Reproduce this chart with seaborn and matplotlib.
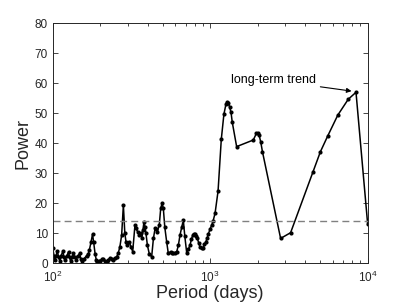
import numpy as np
import pandas as pd
import seaborn as sns
import matplotlib.pyplot as plt

# periodogram
period = [100, 102, 103, 105, 107, 109, 111, 113, 116, 118, 120, 123, 126, 128,
          130, 133, 135, 138, 141, 145, 148, 151, 153, 158, 164, 168, 171, 175,
          179, 182, 186, 189, 192, 196, 200, 205, 210, 215, 220, 225, 231, 237,
          243, 249, 255, 261, 267, 274, 281, 287, 292, 298, 306, 314, 322, 333,
          338, 346, 355, 362, 368, 374, 380, 386, 391, 399, 411, 425, 436, 447,
          455, 462, 475, 485, 495, 504, 515, 529, 542, 562, 572, 584, 598, 613,
          628, 643, 660, 675, 690, 710, 728, 745, 760, 775, 788, 801, 815, 829,
          845, 861, 882, 904, 920, 940, 955, 972, 1000, 1023, 1042, 1074, 1122,
          1176, 1222, 1260, 1282, 1305, 1330, 1356, 1381, 1472, 1878, 1965, 2000,
          2043, 2093, 2147, 2800, 3240, 4500, 5010, 5570, 6460, 7530, 8430, 10000]
power = [5.0, 2.5, 1.0, 2.5, 4.2, 2.0, 0.8, 2.5, 4.0, 2.0, 1.0, 2.5, 3.8, 2.0,
         0.7, 2.0, 3.5, 2.0, 1.2, 2.5, 3.3, 1.5, 0.8, 1.5, 2.5, 3.0, 4.5, 7.0,
         9.7, 7.0, 3.0, 1.2, 0.5, 0.7, 0.8, 1.3, 1.5, 0.8, 0.6, 1.2, 1.7, 1.5,
         1.2, 1.8, 2.2, 3.5, 5.5, 9.4, 19.4, 10.0, 7.2, 6.1, 7.2, 5.5, 3.9, 12.8,
         11.7, 10.5, 9.4, 10.0, 8.3, 11.0, 13.9, 12.0, 10.0, 6.1, 3.0, 2.2, 8.3, 11.7,
         11.5, 10.6, 12.8, 18.3, 20.0, 18.3, 12.0, 7.2, 3.3, 3.9, 3.6, 3.3, 3.6, 3.9,
         6.0, 9.4, 12.0, 14.4, 9.0, 3.3, 4.8, 6.1, 8.0, 9.4, 9.8, 9.7, 9.0, 8.3,
         6.8, 5.5, 5.0, 5.2, 6.3, 7.2, 8.3, 9.7, 11.5, 12.8, 14.0, 16.7, 24.1,
         41.3, 49.7, 53.1, 53.8, 53.3, 52.0, 50.3, 47.0, 38.9, 41.1, 43.3, 43.5,
         42.8, 40.5, 37.2, 8.3, 10.2, 30.5, 37.2, 42.4, 49.4, 54.7, 57.0, 13.0]
threshold = 14.2
yticks = [0, 10, 20, 30, 40, 50, 60, 70, 80]

df = pd.DataFrame({'period': period, 'power': power})

sns.set_theme(style='ticks')
plt.rcParams['font.family'] = ['Liberation Sans', 'DejaVu Sans']
plt.rcParams['mathtext.fontset'] = 'custom'
plt.rcParams['mathtext.rm'] = 'Liberation Sans'
plt.rcParams['mathtext.it'] = 'Liberation Sans'

axcol = '#262626'
fig = plt.figure(figsize=(4.07, 3.05), dpi=100)
ax = fig.add_axes([0.1295, 0.1367, 0.7739, 0.7869])

sns.lineplot(data=df, x='period', y='power', ax=ax, color='black', lw=1.1,
             marker='o', markersize=3, markeredgewidth=0, estimator=None, sort=False)
ax.axhline(threshold, color='#808080', ls=(0, (5, 3)), lw=1)

ax.set_xscale('log')
ax.set_xlim(100, 10000)
ax.set_ylim(0, 80)
ax.set_yticks(yticks)
ax.set_xlabel('Period (days)', fontsize=13, color=axcol, labelpad=0)
ax.set_ylabel('Power', fontsize=13, color=axcol, labelpad=2)
ax.tick_params(which='both', direction='in', top=True, right=True,
               labelsize=8.5, colors=axcol, width=0.6)
ax.tick_params(which='major', length=3.5)
ax.tick_params(axis='x', which='major', pad=5)
ax.tick_params(which='minor', length=2)
for s in ax.spines.values():
    s.set_color(axcol)
    s.set_linewidth(0.7)

ax.annotate('long-term trend', xy=(7900, 57.4), xytext=(1350, 61),
            fontsize=9, color='black', ha='left', va='center',
            arrowprops=dict(arrowstyle='-|>', color='black', lw=0.8,
                            mutation_scale=7, shrinkA=1, shrinkB=0))

fig.savefig('out.png', dpi=100)
